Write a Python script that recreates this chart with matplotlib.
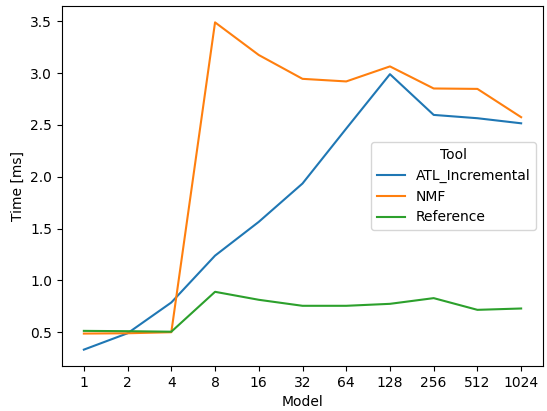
import matplotlib.pyplot as plt

# Data
models = ['1', '2', '4', '8', '16', '32', '64', '128', '256', '512', '1024']
atl_incremental = [0.332, 0.49, 0.787, 1.239, 1.565, 1.935, 2.465, 2.99, 2.597, 2.565, 2.516]
nmf = [0.487, 0.49, 0.50, 3.49, 3.175, 2.945, 2.92, 3.065, 2.852, 2.848, 2.575]
reference = [0.513, 0.51, 0.505, 0.89, 0.813, 0.755, 0.755, 0.774, 0.829, 0.716, 0.729]

fig, ax = plt.subplots(figsize=(5.47, 4.11), dpi=100)
fig.subplots_adjust(left=62/547, right=543/547, top=1 - 6/411, bottom=1 - 366/411)

x = range(len(models))
ax.plot(x, atl_incremental, label='ATL_Incremental')
ax.plot(x, nmf, label='NMF')
ax.plot(x, reference, label='Reference')

ax.set_xticks(list(x))
ax.set_xticklabels(models)
ax.set_xlabel('Model')
ax.set_ylabel('Time [ms]')
ax.legend(title='Tool', loc='center right')

plt.savefig('out.png')
